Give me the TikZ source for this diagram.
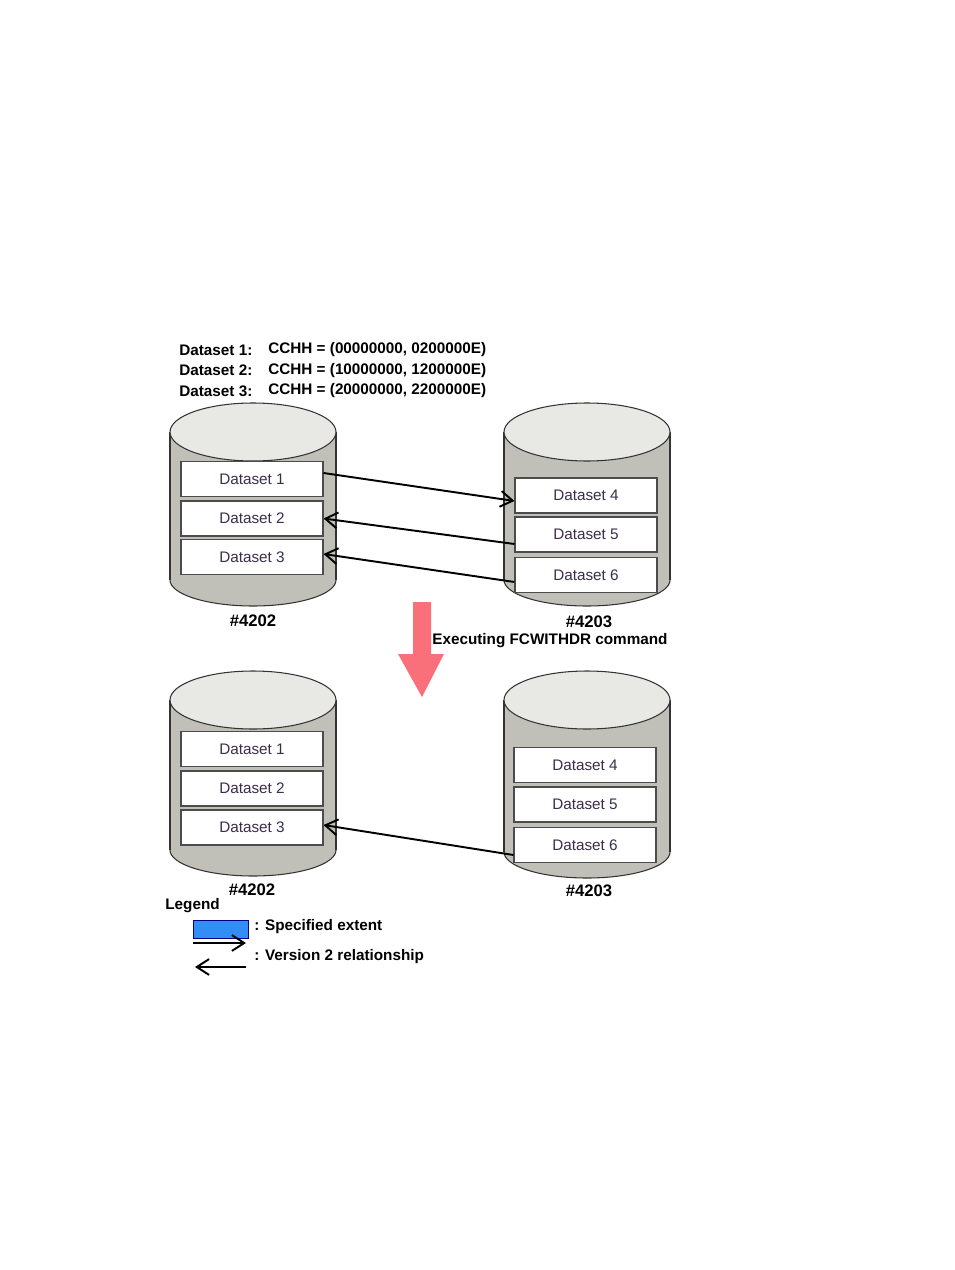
\documentclass[tikz,border=0pt]{standalone}
\usepackage{fontspec}
\setsansfont{Liberation Sans}
\usetikzlibrary{arrows.meta,positioning,calc}
\definecolor{cylgray}{RGB}{192,192,185}
\definecolor{cyllight}{RGB}{232,232,228}
\definecolor{dstext}{RGB}{60,45,75}
\definecolor{salmon}{RGB}{250,112,122}
\definecolor{extblue}{RGB}{50,142,245}

\begin{document}
\begin{tikzpicture}[
  x=0.02cm, y=-0.02cm,
  % Dataset boxes inside the volumes
  dsbox/.style={draw=black!70,fill=white,rectangle,line width=0.6pt,
                minimum width=2.84cm,minimum height=0.70cm,
                font=\sffamily\fontsize{8.7}{10}\selectfont,text=dstext},
  % Bold captions
  lbl/.style={font=\sffamily\bfseries\fontsize{8.7}{10}\selectfont,inner sep=0pt},
  vol/.style={font=\sffamily\bfseries\fontsize{9.5}{11}\selectfont,inner sep=0pt},
  cylside/.style={fill=cylgray,draw=black!80,line width=0.6pt},
  cyltop/.style={fill=cyllight,draw=black!80,line width=0.6pt},
  rel/.style={-{Straight Barb[length=7pt,width=9pt]},line width=1.1pt}
]
  \useasboundingbox (0,0) rectangle (954,1270);

  % ---- Extent header ----
  \foreach \i/\ext in {1/{(00000000, 0200000E)},2/{(10000000, 1200000E)},3/{(20000000, 2200000E)}}{
    \node[lbl,anchor=west] (hd\i) at (179,329.5+20.5*\i) {Dataset \i:};
    \node[lbl,anchor=west] (cc\i) at (268,329.5+20.5*\i) {CCHH = \ext};
  }

  % ---- Volumes (cx / top y / bottom y) ----
  \foreach \cx/\ct/\cb in {253/432/580, 587/432/580, 253/700/850, 587/700/852}{
    \draw[cylside] (\cx,\cb) ellipse [x radius=83, y radius=26];
    \fill[cylgray] (\cx-83,\ct) rectangle (\cx+83,\cb);
    \draw[black!80,line width=0.6pt] (\cx-83,\ct) -- (\cx-83,\cb) (\cx+83,\ct) -- (\cx+83,\cb);
    \draw[cyltop] (\cx,\ct) ellipse [x radius=83, y radius=29];
  }

  % ---- Before: datasets ----
  \node[dsbox] (ds1) at (252,479)   {Dataset 1};
  \node[dsbox] (ds2) at (252,518.5) {Dataset 2};
  \node[dsbox] (ds3) at (252,557)   {Dataset 3};
  \node[dsbox] (ds4) at (586,495.5) {Dataset 4};
  \node[dsbox] (ds5) at (586,534.5) {Dataset 5};
  \node[dsbox] (ds6) at (586,575)   {Dataset 6};
  \node[vol] (v1) at (253,621) {\#4202};
  \node[vol] (v2) at (589,622) {\#4203};

  % ---- Before: relationships ----
  \draw[rel] ([yshift=0.12cm]ds1.east)  -- ([yshift=-0.11cm]ds4.west);
  \draw[rel] ([yshift=-0.19cm]ds5.west) -- (ds2.east);
  \draw[rel] ([yshift=-0.14cm]ds6.west) -- ([yshift=0.06cm]ds3.east);

  % ---- Command arrow ----
  \fill[salmon] (413,602) -- (431,602) -- (431,654) -- (444,654)
                -- (422,697) -- (398,654) -- (413,654) -- cycle;
  \node[lbl,anchor=west] (cmd) at (432,641) {Executing FCWITHDR command};

  % ---- After: datasets ----
  \node[dsbox] (db1) at (252,749)   {Dataset 1};
  \node[dsbox] (db2) at (252,788.5) {Dataset 2};
  \node[dsbox] (db3) at (252,827.5) {Dataset 3};
  \node[dsbox] (db4) at (585,765)   {Dataset 4};
  \node[dsbox] (db5) at (585,804.5) {Dataset 5};
  \node[dsbox] (db6) at (585,845)   {Dataset 6};
  \node[vol] (v3) at (252,890) {\#4202};
  \node[vol] (v4) at (589,891) {\#4203};

  % ---- After: relationship ----
  \draw[rel] ([yshift=-0.2cm]db6.west) -- ([yshift=0.05cm]db3.east);

  % ---- Legend ----
  \node[lbl,anchor=west] (leg) at (165,906) {Legend};
  \node[draw=blue!50!black,fill=extblue,minimum width=1.1cm,minimum height=0.36cm,
        inner sep=0pt,line width=0.5pt] (legbox) at (220.5,929) {};
  \node[lbl,anchor=west] (legext) at (254,927) {: Specified extent};
  \coordinate (la1) at (193,943);
  \coordinate (la2) at (246,943);
  \coordinate (lb1) at (246,967);
  \coordinate (lb2) at (195,967);
  \draw[rel] (la1) -- (la2);
  \draw[rel] (lb1) -- (lb2);
  \node[lbl,anchor=west] (legrel) at (254,957) {: Version 2 relationship};
\end{tikzpicture}
\end{document}
